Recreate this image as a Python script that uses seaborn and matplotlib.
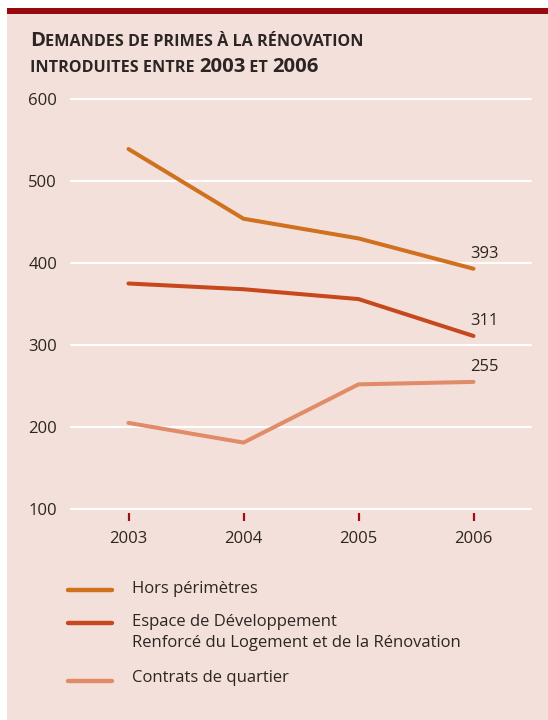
import numpy as np
import pandas as pd
import matplotlib
matplotlib.use('Agg')
import matplotlib.pyplot as plt
import seaborn as sns
from matplotlib.patches import Rectangle
from matplotlib.lines import Line2D

# data
years = [2003, 2004, 2005, 2006]
hors_perimetres = [539, 454, 430, 393]
edrlr = [375, 368, 356, 311]
contrats_quartier = [205, 181, 252, 255]
series_names = ['Hors périmètres',
                'Espace de Développement\nRenforcé du Logement et de la Rénovation',
                'Contrats de quartier']
series_colors = ['#cf711e', '#c8481e', '#e08c69']
y_ticks = [100, 200, 300, 400, 500, 600]

bg = '#f4e0da'
dark = '#2b2523'
tick_red = '#9c0f17'

df = pd.DataFrame({
    'year': years * 3,
    'value': hors_perimetres + edrlr + contrats_quartier,
    'serie': [series_names[0]] * 4 + [series_names[1]] * 4 + [series_names[2]] * 4,
})

sns.set_theme(style='white')
plt.rcParams['font.family'] = ['Open Sans', 'DejaVu Sans']

W, H = 548, 720
fig = plt.figure(figsize=(W / 100, H / 100), dpi=100, facecolor='white')

# panel background and top red bar
fig.add_artist(Rectangle((7 / W, 0), 1, (H - 14) / H, transform=fig.transFigure,
                         facecolor=bg, edgecolor='none', zorder=-10))
fig.add_artist(Rectangle((7 / W, (H - 14) / H), 1, 6 / H, transform=fig.transFigure,
                         facecolor='#960a0e', edgecolor='none', zorder=-10))

ax = fig.add_axes([71 / W, 1 - 509 / H, (531 - 71) / W, (509 - 99) / H])
ax.set_facecolor('none')

sns.lineplot(data=df, x='year', y='value', hue='serie', palette=series_colors,
             hue_order=series_names, linewidth=2.9, solid_capstyle='round',
             solid_joinstyle='miter', legend=False, ax=ax, zorder=3)

ax.set_xlim(2002.5, 2006.5)
ax.set_ylim(100, 600)
ax.set_yticks(y_ticks)
ax.set_xticks(years)
ax.set_xlabel('')
ax.set_ylabel('')
for s in ax.spines.values():
    s.set_visible(False)
ax.spines['bottom'].set_position(('outward', 3))

ax.yaxis.grid(True, color='white', linewidth=1.5)
ax.xaxis.grid(False)
for gl in ax.get_ygridlines():
    gl.set_clip_on(False)
ax.set_axisbelow(True)

ax.tick_params(axis='y', length=0, pad=10, labelsize=12, labelcolor=dark)
ax.tick_params(axis='x', bottom=True, direction='out', length=6, width=1.6,
               color=tick_red, pad=7, labelsize=12, labelcolor=dark)

# end-of-line value labels
for vals in [hors_perimetres, edrlr, contrats_quartier]:
    ax.annotate(str(vals[-1]), (years[-1], vals[-1]), xytext=(-3, 7),
                textcoords='offset pixels', ha='left', va='bottom',
                fontsize=12, color=dark)

# title in small caps, built piece by piece
renderer = fig.canvas.get_renderer()
big, small = 14.6, 11.6


def smallcaps(x, y, pieces):
    for txt, size in pieces:
        t = fig.text(x / W, 1 - y / H, txt, fontsize=size, fontweight='bold',
                     color=dark, va='baseline', ha='left')
        x += t.get_window_extent(renderer).width


smallcaps(30, 46, [('D', big), ('EMANDES DE PRIMES À LA RÉNOVATION', small)])
smallcaps(30, 72, [('INTRODUITES ENTRE ', small), ('2003', big),
                   (' ET ', small), ('2006', big)])

# legend drawn by hand
legend_y = [590, 623, 681]
text_y = [589, 614, 678]
for name, col, ly, ty in zip(series_names, series_colors, legend_y, text_y):
    fig.add_artist(Line2D([68 / W, 112 / W], [1 - ly / H, 1 - ly / H],
                          transform=fig.transFigure, color=col, linewidth=3.2,
                          solid_capstyle='round'))
    fig.text(132 / W, 1 - ty / H, name, fontsize=12, color=dark,
             va='top' if '\n' in name else 'center', ha='left',
             linespacing=1.45)

fig.savefig('out.png', dpi=100, facecolor='white')
